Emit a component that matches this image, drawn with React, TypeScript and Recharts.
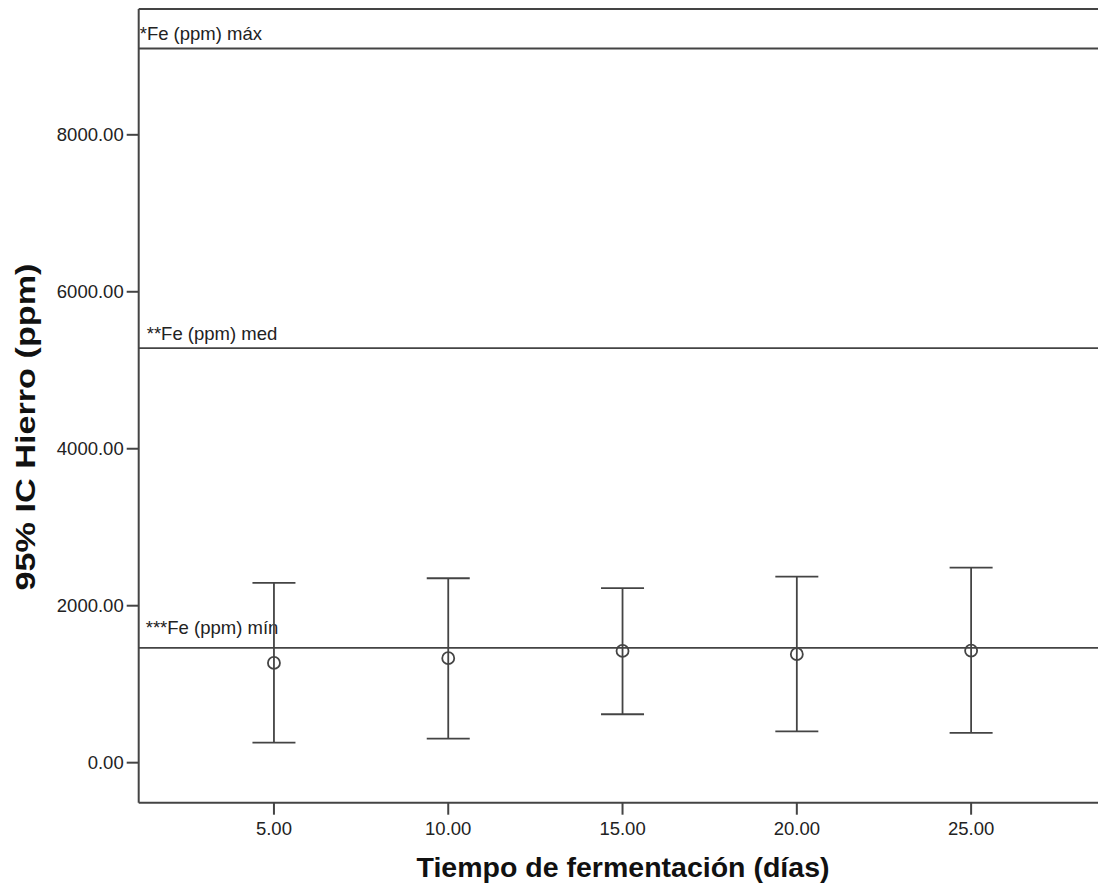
import React from 'react';
import { ComposedChart, Scatter, ErrorBar, XAxis, YAxis, ReferenceLine, Label } from 'recharts';

// fermentation days and the 95% CI of iron (ppm) for each
const days = [5, 10, 15, 20, 25];
const ciLower = [255, 306, 617, 400, 379];
const means = [1271, 1331, 1424, 1382, 1427];
const ciUpper = [2290, 2350, 2223, 2371, 2485];

// reference levels of Fe (ppm)
const refLabels = ['*Fe (ppm) máx', '**Fe (ppm) med', '***Fe (ppm) mín'];
const refValues = [9100, 5282, 1462];

const xTicks = [5, 10, 15, 20, 25];
const yTicks = [0, 2000, 4000, 6000, 8000];

const X_DOMAIN: [number, number] = [1.12, 28.64];
const Y_DOMAIN: [number, number] = [-510, 9603];

const data = days.map((d, i) => ({
  day: d,
  mean: means[i],
  err: [means[i] - ciLower[i], ciUpper[i] - means[i]],
}));

const FONT = '"Liberation Sans", Arial, sans-serif';
const INK = '#444';
const TICK_FONT = 18.5;

// label offsets (dx, dy from the left end of each line)
const labelOffsets = [
  [1, -8],
  [8, -8],
  [7, -14],
];

const OpenCircle = (props: any) => {
  const { cx, cy } = props;
  if (cx == null || cy == null) return null;
  return <circle cx={cx} cy={cy} r={6} fill="none" stroke={INK} strokeWidth={1.8} />;
};

export default function App() {
  return (
    <div style={{ position: 'absolute', left: 0, top: 0, width: 1098, height: 886, background: '#fff' }}>
      <ComposedChart width={1098} height={886} data={data} margin={{ top: 9, right: 0, bottom: 0, left: 0 }}>
        <XAxis
          type="number"
          dataKey="day"
          domain={X_DOMAIN}
          ticks={xTicks}
          allowDataOverflow
          height={83.3}
          tickFormatter={(v: number) => v.toFixed(2)}
          tickSize={12}
          tickMargin={7}
          stroke={INK}
          strokeWidth={2}
          tick={{ fill: '#222', fontSize: TICK_FONT, fontFamily: FONT }}
        >
          <Label
            content={() => (
              <text
                x={623}
                y={877}
                textAnchor="middle"
                fontSize={27}
                fontWeight="bold"
                fontFamily={FONT}
                fill="#111"
                textLength={413}
                lengthAdjust="spacingAndGlyphs"
              >
                Tiempo de fermentación (días)
              </text>
            )}
          />
        </XAxis>
        <YAxis
          type="number"
          domain={Y_DOMAIN}
          ticks={yTicks}
          allowDataOverflow
          width={138.7}
          tickFormatter={(v: number) => v.toFixed(2)}
          tickSize={12}
          tickMargin={3}
          stroke={INK}
          strokeWidth={2}
          tick={{ fill: '#222', fontSize: TICK_FONT, fontFamily: FONT }}
        >
          <Label
            content={() => (
              <text
                x={35}
                y={427}
                transform="rotate(-90 35 427)"
                textAnchor="middle"
                fontSize={27}
                fontWeight="bold"
                fontFamily={FONT}
                fill="#111"
                textLength={327}
                lengthAdjust="spacingAndGlyphs"
              >
                95% IC Hierro (ppm)
              </text>
            )}
          />
        </YAxis>
        {/* top frame */}
        <ReferenceLine y={Y_DOMAIN[1]} stroke={INK} strokeWidth={2} ifOverflow="visible" />
        {refValues.map((v, i) => (
          <ReferenceLine
            key={refLabels[i]}
            y={v}
            stroke={INK}
            strokeWidth={1.8}
            label={(p: any) => (
              <text
                x={p.viewBox.x + labelOffsets[i][0]}
                y={p.viewBox.y + labelOffsets[i][1]}
                fontSize={TICK_FONT}
                fontFamily={FONT}
                fill="#222"
              >
                {refLabels[i]}
              </text>
            )}
          />
        ))}
        <Scatter dataKey="mean" shape={OpenCircle} isAnimationActive={false}>
          <ErrorBar dataKey="err" direction="y" width={21.5} stroke={INK} strokeWidth={1.8} />
        </Scatter>
      </ComposedChart>
    </div>
  );
}
